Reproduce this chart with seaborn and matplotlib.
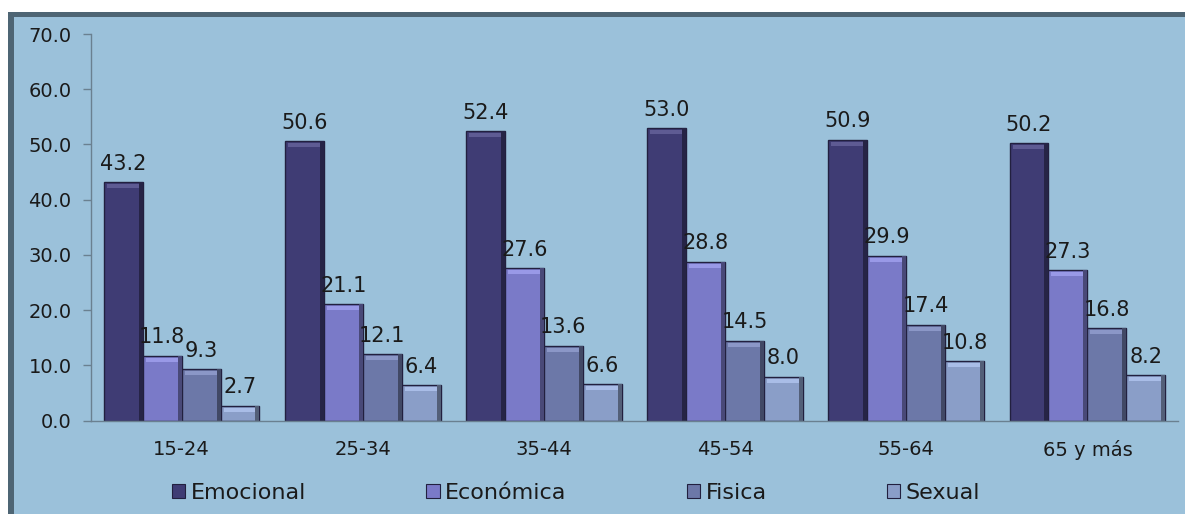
import matplotlib
matplotlib.use("Agg")
import matplotlib.pyplot as plt
from matplotlib.patches import Rectangle
import matplotlib.colors as mcolors
import seaborn as sns
import pandas as pd
import numpy as np

categories = ["15-24", "25-34", "35-44", "45-54", "55-64", "65 y más"]
series = ["Emocional", "Económica", "Fisica", "Sexual"]
emocional = [43.2, 50.6, 52.4, 53.0, 50.9, 50.2]
economica = [11.8, 21.1, 27.6, 28.8, 29.9, 27.3]
fisica = [9.3, 12.1, 13.6, 14.5, 17.4, 16.8]
sexual = [2.7, 6.4, 6.6, 8.0, 10.8, 8.2]
yticks = [0, 10, 20, 30, 40, 50, 60, 70]

colors = ["#3f3c74", "#7a7ac8", "#6c78a8", "#8a9ec8"]
bg = "#9bc1da"
border = "#4e6574"

df = pd.DataFrame({
    "cat": categories * 4,
    "serie": sum([[s] * 6 for s in series], []),
    "val": emocional + economica + fisica + sexual,
})

sns.set_theme(style="white")
plt.rcParams["font.family"] = ["DejaVu Sans"]

W, H = 1185, 514
fig = plt.figure(figsize=(W / 100, H / 100), dpi=100)
fig.patch.set_facecolor("white")
# framed background panel
fig.add_artist(Rectangle((8 / W, -0.1), 1.2, 1 - 12 / H + 0.1, transform=fig.transFigure,
                         facecolor=border, edgecolor="none", zorder=0))
fig.add_artist(Rectangle((14 / W, -0.1), 1.2, 1 - 17 / H + 0.1, transform=fig.transFigure,
                         facecolor=bg, edgecolor="none", zorder=0))

ax = fig.add_axes([91 / W, (H - 420.7) / H, (1178 - 91) / W, (420.7 - 34) / H])
ax.set_facecolor("none")

sns.barplot(data=df, x="cat", y="val", hue="serie", hue_order=series, order=categories,
            palette=colors, width=0.86, gap=0, saturation=1, ax=ax,
            edgecolor="#22203f", linewidth=1.0, legend=False)

# bevel shading derived from each bar's geometry
px_y = 70 / (420.7 - 34)
px_x = 6 / (1178 - 91)
for cont, c in zip(ax.containers, colors):
    base = np.array(mcolors.to_rgb(c))
    light = tuple(np.clip(base + 0.12, 0, 1))
    dark = tuple(base * 0.6)
    for bar in cont:
        x, w, h = bar.get_x(), bar.get_width(), bar.get_height()
        ax.add_patch(Rectangle((x + w - 4 * px_x, 0), 4 * px_x, h, facecolor=dark,
                               edgecolor="none", zorder=bar.get_zorder() + 0.1))
        ax.add_patch(Rectangle((x + 3 * px_x, h - 6 * px_y), w - 7 * px_x, 4 * px_y,
                               facecolor=light, edgecolor="none", zorder=bar.get_zorder() + 0.1))

for cont in ax.containers:
    ax.bar_label(cont, fmt="%.1f", padding=6, fontsize=15, color="#1a1a1a")

ax.set_ylim(0, 70)
ax.set_xlim(-0.5, 5.5)
ax.set_yticks(yticks)
ax.set_yticklabels([f"{v:.1f}" for v in yticks], fontsize=14, color="#1a1a1a")
ax.set_xlabel("")
ax.set_ylabel("")
ax.tick_params(axis="x", which="major", length=0, pad=14, labelsize=14, labelcolor="#1a1a1a")
ax.set_xticks(np.arange(-0.5, 6.0, 1.0), minor=True)
ax.tick_params(axis="x", which="minor", length=5, width=1, color="#6a8090", direction="out")
ax.tick_params(axis="y", length=6, width=1, color="#6a8090", pad=8, left=True)
for s in ["top", "right"]:
    ax.spines[s].set_visible(False)
for s in ["left", "bottom"]:
    ax.spines[s].set_color("#6a8090")
    ax.spines[s].set_linewidth(1)

handles = [Rectangle((0, 0), 1, 1, facecolor=c, edgecolor="#22203f", linewidth=0.8) for c in colors]
fig.legend(handles, series, loc="center left", bbox_to_anchor=(172 / W, 1 - 493 / H),
           ncol=4, frameon=False, fontsize=16, handlelength=0.6, handleheight=0.6,
           handletextpad=0.25, columnspacing=5.4, borderpad=0, borderaxespad=0,
           labelcolor="#1a1a1a")

fig.savefig("out.png", dpi=100, facecolor="white")
